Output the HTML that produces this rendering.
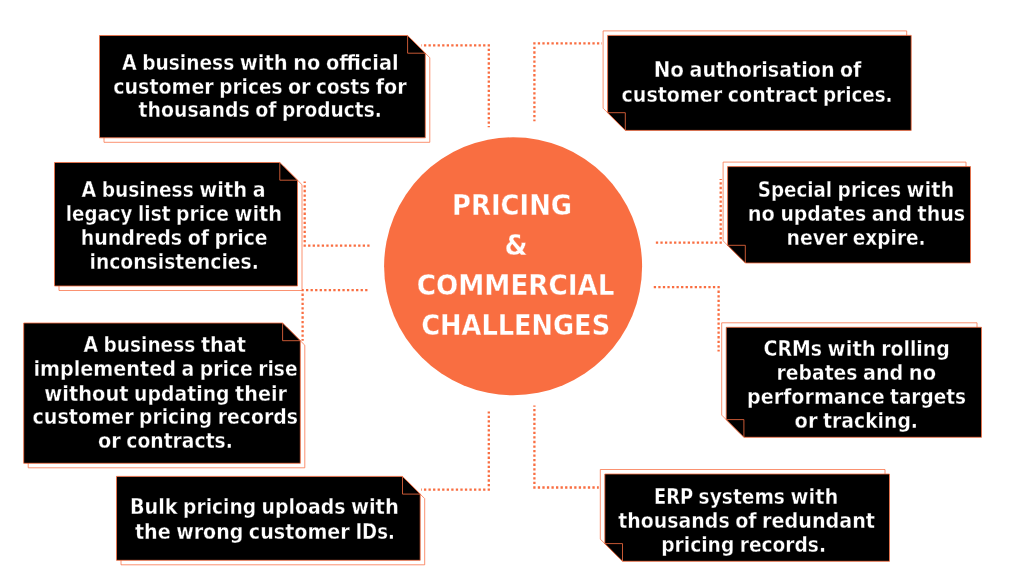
<!DOCTYPE html>
<html lang="en">
<head>
<meta charset="utf-8">
<title>Pricing &amp; Commercial Challenges</title>
<style>
html,body{margin:0;padding:0;background:#fff;}
body{width:1024px;height:576px;overflow:hidden;}
svg{display:block;will-change:transform;}
.t{font-family:"DejaVu Sans Condensed","DejaVu Sans","Liberation Sans",sans-serif;font-weight:bold;font-stretch:condensed;fill:#fff;}
.b{font-size:20.8px;stroke:#000;stroke-width:.3px;}
.c{font-size:28.6px;stroke:#f96e41;stroke-width:.3px;}
.o{fill:#fff;stroke:#f96e41;stroke-width:.75;}
.k{fill:#000;stroke:#f96e41;stroke-width:.8;}
.f{fill:none;stroke:#f96e41;stroke-width:.8;}
.d{fill:none;stroke:#f96e41;stroke-width:2.3;stroke-dasharray:2.3 2.25;}
</style>
</head>
<body>
<svg width="1024" height="576" viewBox="0 0 1024 576">
<rect width="1024" height="576" fill="#fff"/>
<path class="d" stroke-dashoffset="1.8" d="M421.2 45.3L488.8 45.3L488.8 127.2"/>
<path class="d" stroke-dashoffset="0.75" d="M304.7 181.5L304.7 245.6L370 245.6"/>
<path class="d" stroke-dashoffset="0.6" d="M302.6 340.8L302.6 290.2L367.8 290.2"/>
<path class="d" stroke-dashoffset="1.6" d="M421 489.6L488.8 489.6L488.8 411.6"/>
<path class="d" stroke-dashoffset="1.8" d="M602 43.4L534.4 43.4L534.4 121.2"/>
<path class="d" stroke-dashoffset="1.25" d="M720.7 179L720.7 242.6L655.2 242.6"/>
<path class="d" stroke-dashoffset="0.45" d="M718.6 351.6L718.6 287.2L653 287.2"/>
<path class="d" stroke-dashoffset="0.45" d="M598.8 487.5L534.4 487.5L534.4 405.6"/>
<path class="o" d="M104 40H412.1L429.8 57.7V142.3H104Z"/>
<path class="k" d="M99.5 35.5H407.6L425.3 53.2V137.8H99.5Z"/>
<path class="f" d="M407.6 35.5V53.2H425.3"/>
<text class="t b" y="69.8"><tspan x="122" textLength="14.7" lengthAdjust="spacingAndGlyphs">A</tspan> <tspan x="142.2" textLength="92.1" lengthAdjust="spacingAndGlyphs">business</tspan> <tspan x="239.8" textLength="47.9" lengthAdjust="spacingAndGlyphs">with</tspan> <tspan x="293.2" textLength="27.1" lengthAdjust="spacingAndGlyphs">no</tspan> <tspan x="325.9" textLength="72.8" lengthAdjust="spacingAndGlyphs">official</tspan></text>
<text class="t b" y="93.8"><tspan x="113.3" textLength="100.4" lengthAdjust="spacingAndGlyphs">customer</tspan> <tspan x="219.2" textLength="63.3" lengthAdjust="spacingAndGlyphs">prices</tspan> <tspan x="287.9" textLength="22.7" lengthAdjust="spacingAndGlyphs">or</tspan> <tspan x="316.1" textLength="54.1" lengthAdjust="spacingAndGlyphs">costs</tspan> <tspan x="375.7" textLength="30.9" lengthAdjust="spacingAndGlyphs">for</tspan></text>
<text class="t b" y="117"><tspan x="138.6" textLength="111.1" lengthAdjust="spacingAndGlyphs">thousands</tspan> <tspan x="255.2" textLength="21.3" lengthAdjust="spacingAndGlyphs">of</tspan> <tspan x="281.9" textLength="99.9" lengthAdjust="spacingAndGlyphs">products.</tspan></text>
<path class="o" d="M59 167H284.3L302 184.7V290.5H59Z"/>
<path class="k" d="M54.5 162.5H279.8L297.5 180.2V286H54.5Z"/>
<path class="f" d="M279.8 162.5V180.2H297.5"/>
<text class="t b" y="197.2"><tspan x="81.5" textLength="14.7" lengthAdjust="spacingAndGlyphs">A</tspan> <tspan x="101.7" textLength="92.1" lengthAdjust="spacingAndGlyphs">business</tspan> <tspan x="199.3" textLength="47.9" lengthAdjust="spacingAndGlyphs">with</tspan> <tspan x="252.7" textLength="12.8" lengthAdjust="spacingAndGlyphs">a</tspan></text>
<text class="t b" y="221.2"><tspan x="65.8" textLength="66.7" lengthAdjust="spacingAndGlyphs">legacy</tspan> <tspan x="138" textLength="32.6" lengthAdjust="spacingAndGlyphs">list</tspan> <tspan x="176.1" textLength="52.9" lengthAdjust="spacingAndGlyphs">price</tspan> <tspan x="234.5" textLength="47.7" lengthAdjust="spacingAndGlyphs">with</tspan></text>
<text class="t b" y="245.2"><tspan x="80.7" textLength="101.5" lengthAdjust="spacingAndGlyphs">hundreds</tspan> <tspan x="187.7" textLength="21.4" lengthAdjust="spacingAndGlyphs">of</tspan> <tspan x="214.6" textLength="53" lengthAdjust="spacingAndGlyphs">price</tspan></text>
<text class="t b" y="269.2"><tspan x="89.5" textLength="169.3" lengthAdjust="spacingAndGlyphs">inconsistencies.</tspan></text>
<path class="o" d="M28.2 327.5H287.1L304.8 345.2V467.8H28.2Z"/>
<path class="k" d="M23.7 323H282.6L300.3 340.7V463.3H23.7Z"/>
<path class="f" d="M282.6 323V340.7H300.3"/>
<text class="t b" y="352.3"><tspan x="83.4" textLength="14.6" lengthAdjust="spacingAndGlyphs">A</tspan> <tspan x="103.5" textLength="91.8" lengthAdjust="spacingAndGlyphs">business</tspan> <tspan x="200.9" textLength="45.1" lengthAdjust="spacingAndGlyphs">that</tspan></text>
<text class="t b" y="376.3"><tspan x="33.4" textLength="142.5" lengthAdjust="spacingAndGlyphs">implemented</tspan> <tspan x="181.4" textLength="12.8" lengthAdjust="spacingAndGlyphs">a</tspan> <tspan x="199.8" textLength="53.1" lengthAdjust="spacingAndGlyphs">price</tspan> <tspan x="258.3" textLength="39.3" lengthAdjust="spacingAndGlyphs">rise</tspan></text>
<text class="t b" y="400.5"><tspan x="44.3" textLength="84.3" lengthAdjust="spacingAndGlyphs">without</tspan> <tspan x="134.1" textLength="95.5" lengthAdjust="spacingAndGlyphs">updating</tspan> <tspan x="235.1" textLength="51.9" lengthAdjust="spacingAndGlyphs">their</tspan></text>
<text class="t b" y="424.3"><tspan x="32.4" textLength="101.2" lengthAdjust="spacingAndGlyphs">customer</tspan> <tspan x="139.1" textLength="73.1" lengthAdjust="spacingAndGlyphs">pricing</tspan> <tspan x="217.8" textLength="80.1" lengthAdjust="spacingAndGlyphs">records</tspan></text>
<text class="t b" y="448.4"><tspan x="98" textLength="22.8" lengthAdjust="spacingAndGlyphs">or</tspan> <tspan x="126.3" textLength="106.6" lengthAdjust="spacingAndGlyphs">contracts.</tspan></text>
<path class="o" d="M121 480.9H407L424.7 498.6V564.8H121Z"/>
<path class="k" d="M116.5 476.4H402.5L420.2 494.1V560.3H116.5Z"/>
<path class="f" d="M402.5 476.4V494.1H420.2"/>
<text class="t b" y="513.9"><tspan x="129.9" textLength="47.6" lengthAdjust="spacingAndGlyphs">Bulk</tspan> <tspan x="183.1" textLength="73" lengthAdjust="spacingAndGlyphs">pricing</tspan> <tspan x="261.5" textLength="83.9" lengthAdjust="spacingAndGlyphs">uploads</tspan> <tspan x="350.9" textLength="47.9" lengthAdjust="spacingAndGlyphs">with</tspan></text>
<text class="t b" y="538.8"><tspan x="134.9" textLength="35.8" lengthAdjust="spacingAndGlyphs">the</tspan> <tspan x="176.2" textLength="67.1" lengthAdjust="spacingAndGlyphs">wrong</tspan> <tspan x="248.8" textLength="101" lengthAdjust="spacingAndGlyphs">customer</tspan> <tspan x="355.4" textLength="39.4" lengthAdjust="spacingAndGlyphs">IDs.</tspan></text>
<path class="o" d="M603.1 30.9H906.7V125.9H620.8L603.1 108.2Z"/>
<path class="k" d="M607.6 35.4H911.2V130.4H625.3L607.6 112.7Z"/>
<path class="f" d="M607.6 112.7H625.3V130.4"/>
<text class="t b" y="76.9"><tspan x="653.7" textLength="30.3" lengthAdjust="spacingAndGlyphs">No</tspan> <tspan x="689.5" textLength="145" lengthAdjust="spacingAndGlyphs">authorisation</tspan> <tspan x="840" textLength="21.3" lengthAdjust="spacingAndGlyphs">of</tspan></text>
<text class="t b" y="101.6"><tspan x="621.5" textLength="100.7" lengthAdjust="spacingAndGlyphs">customer</tspan> <tspan x="727.8" textLength="89.8" lengthAdjust="spacingAndGlyphs">contract</tspan> <tspan x="823" textLength="69.6" lengthAdjust="spacingAndGlyphs">prices.</tspan></text>
<path class="o" d="M723.1 162.1H966V258.5H740.8L723.1 240.8Z"/>
<path class="k" d="M727.6 166.6H970.5V263H745.3L727.6 245.3Z"/>
<path class="f" d="M727.6 245.3H745.3V263"/>
<text class="t b" y="197.1"><tspan x="757.8" textLength="74.3" lengthAdjust="spacingAndGlyphs">Special</tspan> <tspan x="837.6" textLength="63.5" lengthAdjust="spacingAndGlyphs">prices</tspan> <tspan x="906.5" textLength="47.8" lengthAdjust="spacingAndGlyphs">with</tspan></text>
<text class="t b" y="221.1"><tspan x="747.8" textLength="27.1" lengthAdjust="spacingAndGlyphs">no</tspan> <tspan x="780.4" textLength="85.9" lengthAdjust="spacingAndGlyphs">updates</tspan> <tspan x="871.8" textLength="40.2" lengthAdjust="spacingAndGlyphs">and</tspan> <tspan x="917.5" textLength="47.7" lengthAdjust="spacingAndGlyphs">thus</tspan></text>
<text class="t b" y="245.2"><tspan x="786.6" textLength="60.7" lengthAdjust="spacingAndGlyphs">never</tspan> <tspan x="852.8" textLength="72.8" lengthAdjust="spacingAndGlyphs">expire.</tspan></text>
<path class="o" d="M721.7 322.8H977V432.8H739.4L721.7 415.1Z"/>
<path class="k" d="M726.2 327.3H981.5V437.3H743.9L726.2 419.6Z"/>
<path class="f" d="M726.2 419.6H743.9V437.3"/>
<text class="t b" y="356"><tspan x="763.6" textLength="58.4" lengthAdjust="spacingAndGlyphs">CRMs</tspan> <tspan x="827.6" textLength="48.1" lengthAdjust="spacingAndGlyphs">with</tspan> <tspan x="881.2" textLength="68.5" lengthAdjust="spacingAndGlyphs">rolling</tspan></text>
<text class="t b" y="380.1"><tspan x="776.6" textLength="80.9" lengthAdjust="spacingAndGlyphs">rebates</tspan> <tspan x="863" textLength="40.3" lengthAdjust="spacingAndGlyphs">and</tspan> <tspan x="908.8" textLength="27.2" lengthAdjust="spacingAndGlyphs">no</tspan></text>
<text class="t b" y="404.1"><tspan x="747" textLength="137.6" lengthAdjust="spacingAndGlyphs">performance</tspan> <tspan x="890.1" textLength="75.9" lengthAdjust="spacingAndGlyphs">targets</tspan></text>
<text class="t b" y="428.2"><tspan x="794.6" textLength="22.9" lengthAdjust="spacingAndGlyphs">or</tspan> <tspan x="823.1" textLength="94.9" lengthAdjust="spacingAndGlyphs">tracking.</tspan></text>
<path class="o" d="M600.3 469.5H885V556.8H618L600.3 539.1Z"/>
<path class="k" d="M604.8 474H889.5V561.3H622.5L604.8 543.6Z"/>
<path class="f" d="M604.8 543.6H622.5V561.3"/>
<text class="t b" y="503.6"><tspan x="653.9" textLength="39.2" lengthAdjust="spacingAndGlyphs">ERP</tspan> <tspan x="698.6" textLength="86.3" lengthAdjust="spacingAndGlyphs">systems</tspan> <tspan x="790.5" textLength="47.8" lengthAdjust="spacingAndGlyphs">with</tspan></text>
<text class="t b" y="527.6"><tspan x="618.2" textLength="111.5" lengthAdjust="spacingAndGlyphs">thousands</tspan> <tspan x="735.2" textLength="21.4" lengthAdjust="spacingAndGlyphs">of</tspan> <tspan x="762.1" textLength="112.9" lengthAdjust="spacingAndGlyphs">redundant</tspan></text>
<text class="t b" y="551.6"><tspan x="661.2" textLength="73.1" lengthAdjust="spacingAndGlyphs">pricing</tspan> <tspan x="739.8" textLength="86.2" lengthAdjust="spacingAndGlyphs">records.</tspan></text>
<circle cx="513.1" cy="266.3" r="129" fill="#f96e41"/>
<text class="t c" y="214.8"><tspan x="452.1" textLength="119.9" lengthAdjust="spacingAndGlyphs">PRICING</tspan></text>
<text class="t c" y="254.7"><tspan x="504.4" textLength="23.1" lengthAdjust="spacingAndGlyphs">&amp;</tspan></text>
<text class="t c" y="295"><tspan x="416.7" textLength="197.8" lengthAdjust="spacingAndGlyphs">COMMERCIAL</tspan></text>
<text class="t c" y="335"><tspan x="421.3" textLength="188.8" lengthAdjust="spacingAndGlyphs">CHALLENGES</tspan></text>
</svg>
</body>
</html>
